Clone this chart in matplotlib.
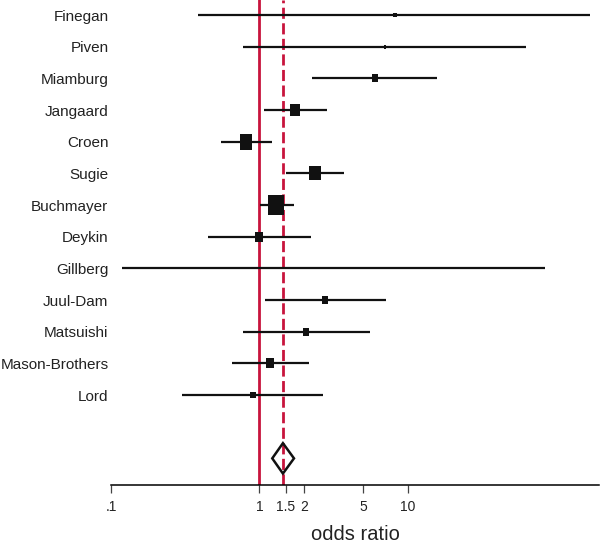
import numpy as np
import matplotlib
matplotlib.use("Agg")
from matplotlib import pyplot as plt

studies = ["Finegan", "Piven", "Miamburg", "Jangaard", "Croen", "Sugie",
           "Buchmayer", "Deykin", "Gillberg", "Juul-Dam", "Matsuishi",
           "Mason-Brothers", "Lord"]
odds = [8.2, 7.0, 6.0, 1.74, 0.81, 2.38, 1.30, 0.99, 3.15, 2.76, 2.07, 1.18, 0.90]
lower = [0.385, 0.78, 2.26, 1.07, 0.55, 1.52, 1.01, 0.45, 0.119, 1.09, 0.77, 0.65, 0.30]
upper = [169, 63, 15.8, 2.84, 1.21, 3.70, 1.71, 2.22, 84, 7.1, 5.55, 2.17, 2.68]
weights = [1.1, 0.7, 4.2, 11.8, 17.0, 13.5, 26.5, 5.8, 0.5, 4.2, 4.2, 7.5, 2.9]

pooled = 1.44
pooled_lo = 1.22
pooled_hi = 1.71

tick_vals = [0.1, 1, 1.5, 2, 5, 10]
tick_labels = [".1", "1", "1.5", "2", "5", "10"]

plt.rcParams['font.family'] = ['Liberation Sans', 'DejaVu Sans']

fig = plt.figure(figsize=(6, 5.43), dpi=100)
ax = fig.add_axes([0.1853, 0.1063, 0.8130, 0.8937])

red = '#c8143c'
ink = '#111111'

ax.axvline(1, color=red, lw=2.0, zorder=1)
ax.axvline(pooled, color=red, lw=2.0, ls=(0, (4, 1.6)), zorder=1)

rows = np.arange(len(studies))
box = [(-0.4, -0.5), (0.4, -0.5), (0.4, 0.5), (-0.4, 0.5), (-0.4, -0.5)]
for y, o, lo, hi, w in zip(rows, odds, lower, upper, weights):
    ax.plot([lo, hi], [y, y], color=ink, lw=1.6, solid_capstyle='butt', zorder=2)
    ax.plot([o], [y], marker=box, ms=2.72 * np.sqrt(w), color=ink,
            mec=ink, mew=0, ls='none', zorder=3)

# pooled diamond
yd = len(studies) + 1
ax.fill([pooled_lo, pooled, pooled_hi, pooled, pooled_lo],
        [yd, yd - 0.48, yd, yd + 0.48, yd],
        facecolor='none', edgecolor=ink, lw=1.8, zorder=3)

ax.set_xscale('log')
ax.set_xlim(0.1, 195)
ax.set_ylim(14.85, -0.474)

ax.set_xticks(tick_vals)
ax.set_xticklabels(tick_labels, fontsize=10, color='#222222')
ax.xaxis.set_minor_locator(matplotlib.ticker.NullLocator())
ax.tick_params(axis='x', length=5.8, width=0.9, pad=5, color='#444444')

ax.set_yticks(rows)
ax.set_yticklabels(studies, fontsize=11, color='#222222')
ax.tick_params(axis='y', length=0, pad=2)

for s in ['top', 'right', 'left']:
    ax.spines[s].set_visible(False)
ax.spines['bottom'].set_linewidth(1.1)

ax.set_xlabel("odds ratio", fontsize=14.5, color='#222222', labelpad=8)

fig.savefig("out.png", dpi=100)
